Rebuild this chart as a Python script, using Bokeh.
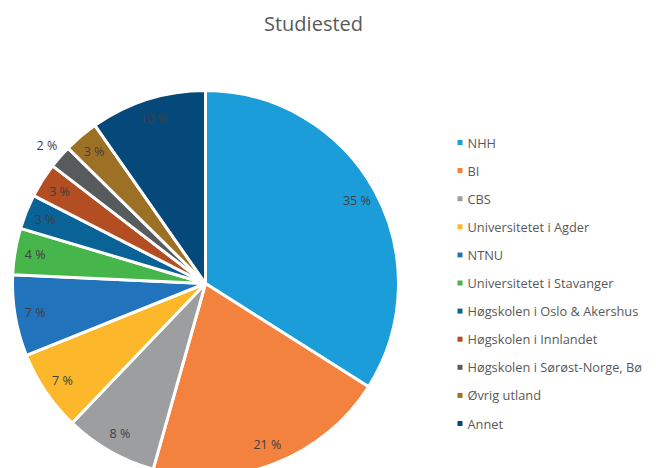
import math
from bokeh.plotting import figure
from bokeh.models import Range1d, ColumnDataSource
from bokeh.core.properties import value
from bokeh.embed import file_html
from bokeh.resources import INLINE

title_text = "Studiested"
categories = ["NHH", "BI", "CBS", "Universitetet i Agder", "NTNU",
              "Universitetet i Stavanger", "Høgskolen i Oslo & Akershus",
              "Høgskolen i Innlandet", "Høgskolen i Sørøst-Norge, Bø",
              "Øvrig utland", "Annet"]
values = [35, 21, 8, 7, 7, 4, 3, 3, 2, 3, 10]
colors = ["#1B9DD9", "#F3823F", "#9D9EA0", "#FDB72A", "#2173BB", "#46B54A",
          "#0A6396", "#B34D22", "#585B5C", "#9D7125", "#05487A"]

W, H = 656, 468
OX, OY = 0, 0
# data coords: x = screen x, y = 468 - screen y
def sy(y):
    return 468 - y

p = figure(width=W, height=H, output_backend="svg", toolbar_location=None,
           x_range=Range1d(OX, OX + W), y_range=Range1d(sy(OY + H), sy(OY)),
           min_border=0, outline_line_color=None)
p.axis.visible = False
p.grid.visible = False
p.background_fill_color = "white"
p.border_fill_color = "white"

cx, cy, R = 205, sy(283), 193
total = float(sum(values))
starts, ends, lx, ly, labels = [], [], [], [], []
cum = 0.0
for v in values:
    a0 = math.pi / 2 - cum / total * 2 * math.pi
    cum += v
    a1 = math.pi / 2 - cum / total * 2 * math.pi
    starts.append(a0)
    ends.append(a1)
    mid = (a0 + a1) / 2
    r = R * (1.09 if v / total < 0.025 else 0.895)
    lx.append(cx + r * math.cos(mid))
    ly.append(cy + r * math.sin(mid))
    labels.append(f"{v} %")

src = ColumnDataSource(dict(start=starts, end=ends, color=colors))
p.wedge(x=cx, y=cy, radius=R, start_angle="start", end_angle="end",
        direction="clock", fill_color="color", line_color="white",
        line_width=3, source=src)

p.text(x=lx, y=ly, text=labels, text_font=value("Open Sans"),
       text_font_size="12.5px", text_color="#404040", text_align="center",
       text_baseline="middle")

p.text(x=[313], y=[sy(23)], text=[title_text], text_font=value("Open Sans"),
       text_font_size="20px", text_color="#595959", text_align="center",
       text_baseline="middle")

ly0, dly = 142, 28.1
leg_y = [sy(ly0 + i * dly) for i in range(len(categories))]
p.rect(x=[459.5] * len(categories), y=leg_y, width=5, height=5,
       fill_color=colors, line_color=None)
p.text(x=[467] * len(categories), y=leg_y, text=categories,
       text_font=value("Open Sans"), text_font_size="12.8px",
       text_color="#595959", text_align="left", text_baseline="middle")

open("out.html", "w").write(file_html(p, INLINE))
